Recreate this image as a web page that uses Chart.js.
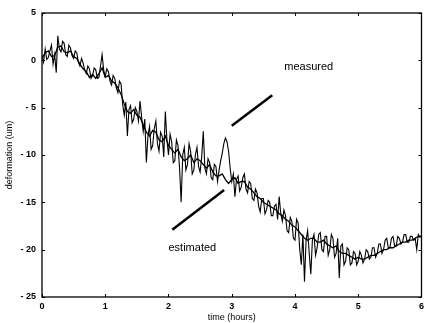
<!DOCTYPE html>
<html>
<head>
<meta charset="utf-8">
<script src="https://cdn.jsdelivr.net/npm/chart.js@4"></script>
<style>
  html, body { margin: 0; padding: 0; background: #fff; }
  #wrap { width: 428px; height: 323px; }
</style>
</head>
<body>
<div id="wrap"><canvas id="grafico"></canvas></div>
<script>
// ===== DADOS =====
const passoMedido = 0.025;   // h
const medido = [
  0.5, -0.2, 1.2, 0.1, 0.3, 1.0, 1.6, -0.4, 0.6, -1.3,
  2.6, 1.2, 0.9, 2.0, 1.8, 0.6, 0.4, 1.6, 1.3, 0.5,
  0.2, 1.0, 0.8, -0.2, -0.6, 0.2, -0.3, -1.0, -1.4, -0.6,
  -0.9, -1.9, -1.6, -0.8, -1.0, -1.9, -1.8, -0.6, 0.6, -1.0,
  -1.7, -0.9, -1.2, -2.2, -2.6, -1.6, -1.9, -2.9, -3.4, -2.2,
  -2.5, -4.6, -5.8, -4.4, -8.0, -5.2, -4.8, -6.6, -6.2, -5.0,
  -5.4, -6.4, -4.3, -6.0, -7.5, -6.2, -10.8, -8.0, -7.0, -9.4,
  -9.0, -7.2, -6.4, -8.8, -9.6, -7.6, -8.0, -10.2, -5.4, -8.4,
  -10.0, -7.8, -8.6, -10.8, -10.6, -8.4, -9.0, -11.4, -15.0, -10.0,
  -9.2, -11.6, -11.0, -8.8, -9.6, -12.0, -11.6, -10.0, -9.2, -11.2,
  -11.8, -10.2, -7.5, -11.4, -12.0, -10.4, -10.8, -12.4, -12.6, -11.0,
  -11.2, -12.8, -11.6, -10.6, -9.8, -8.8, -8.2, -8.6, -9.6, -11.4,
  -12.8, -12.0, -14.4, -12.6, -12.2, -13.8, -13.4, -12.4, -12.0, -13.6,
  -14.0, -12.8, -13.0, -14.6, -14.8, -13.6, -14.0, -15.4, -16.0, -14.6,
  -14.6, -16.2, -15.8, -14.8, -15.0, -16.4, -16.4, -15.4, -15.2, -16.8,
  -14.4, -16.2, -17.0, -15.8, -16.4, -18.0, -18.2, -16.6, -17.0, -18.8,
  -19.0, -16.8, -17.2, -20.0, -21.6, -18.4, -23.4, -19.0, -18.0, -20.4,
  -22.6, -19.0, -18.4, -20.6, -19.8, -18.4, -18.2, -20.0, -20.2, -18.6,
  -18.6, -20.6, -20.0, -18.4, -18.8, -20.8, -20.4, -18.8, -23.0, -19.6,
  -19.4, -21.6, -21.2, -19.8, -20.0, -21.6, -21.4, -20.2, -20.4, -21.6,
  -21.2, -20.2, -20.6, -21.4, -21.0, -20.0, -20.2, -21.0, -20.8, -19.8,
  -19.8, -20.8, -20.4, -19.4, -19.4, -20.4, -20.0, -19.0, -18.8, -19.8,
  -19.8, -18.8, -18.6, -19.6, -19.6, -18.6, -18.8, -19.4, -19.2, -18.4,
  -18.4, -19.2, -19.2, -18.6, -18.6, -19.0, -18.8, -20.0, -18.4, -18.7,
  -18.5
];

const passoEstimado = 0.05;  // h
const estimado = [
  0.2, 0.8, 1.0, 0.4, 0.5, 1.4, 1.5, 0.9, 0.8, 1.0,
  0.4, 0.2, -0.4, -0.9, -1.2, -1.8, -1.5, -1.9, -1.4, -0.8,
  -1.8, -1.6, -2.2, -2.4, -2.9, -3.6, -4.6, -5.4, -5.6, -5.2,
  -5.8, -6.0, -6.8, -7.6, -8.0, -7.4, -7.6, -8.4, -8.6, -8.0,
  -9.0, -9.4, -9.8, -9.4, -10.2, -10.6, -10.4, -10.0, -10.8, -10.4,
  -10.6, -11.0, -11.4, -11.0, -11.8, -12.2, -12.2, -12.0, -12.6, -13.0,
  -12.6, -12.4, -13.0, -12.8, -12.8, -13.4, -13.6, -14.0, -14.4, -14.6,
  -15.0, -15.2, -15.4, -15.6, -15.8, -16.2, -16.4, -16.8, -17.0, -17.4,
  -17.6, -18.0, -18.4, -18.8, -19.0, -18.8, -18.8, -19.2, -19.2, -19.0,
  -19.4, -19.6, -19.8, -19.6, -20.2, -20.4, -20.4, -20.6, -20.8, -21.0,
  -20.8, -21.0, -21.0, -20.8, -20.6, -20.6, -20.4, -20.2, -20.0, -20.0,
  -19.8, -19.8, -19.6, -19.4, -19.2, -19.2, -19.0, -19.0, -18.8, -18.6,
  -18.6
];

// setas de anotação (unidades dos dados)
const setaMedidoX = [3.0, 3.64];
const setaMedidoY = [-6.9, -3.7];
const setaEstimadoX = [2.06, 2.88];
const setaEstimadoY = [-17.9, -13.7];

const rotulos = [
  { texto: 'measured', x: 3.83, y: -0.7 },
  { texto: 'estimated', x: 2.0, y: -19.8 }
];

const ticksX = [0, 1, 2, 3, 4, 5, 6];
const ticksY = [5, 0, -5, -10, -15, -20, -25];

// ===== MONTAGEM =====
function pontos(valores, passo) {
  return valores.map((v, i) => ({ x: +(i * passo).toFixed(3), y: v }));
}
function seta(xs, ys) {
  return xs.map((x, i) => ({ x: x, y: ys[i] }));
}

const fonte = '"Liberation Sans", Arial, sans-serif';

// moldura com ticks para dentro (estilo MATLAB) e textos das anotações
const pluginMoldura = {
  id: 'moldura',
  afterDatasetsDraw(chart) {
    const { ctx, chartArea: a, scales } = chart;
    ctx.save();
    ctx.strokeStyle = '#000';
    ctx.lineWidth = 1.3;
    ctx.strokeRect(a.left, a.top, a.right - a.left, a.bottom - a.top);
    ctx.lineWidth = 1;
    ticksX.forEach(v => {
      const px = Math.round(scales.x.getPixelForValue(v)) + 0.5;
      ctx.beginPath();
      ctx.moveTo(px, a.bottom); ctx.lineTo(px, a.bottom - 3);
      ctx.moveTo(px, a.top); ctx.lineTo(px, a.top + 3);
      ctx.stroke();
    });
    ticksY.forEach(v => {
      const py = Math.round(scales.y.getPixelForValue(v)) + 0.5;
      ctx.beginPath();
      ctx.moveTo(a.left, py); ctx.lineTo(a.left + 3, py);
      ctx.moveTo(a.right, py); ctx.lineTo(a.right - 3, py);
      ctx.stroke();
    });
    ctx.fillStyle = '#000';
    ctx.font = '11px ' + fonte;
    ctx.textBaseline = 'middle';
    rotulos.forEach(r => {
      ctx.fillText(r.texto, scales.x.getPixelForValue(r.x), scales.y.getPixelForValue(r.y));
    });
    ctx.restore();
  }
};

const linha = (dados, largura) => ({
  data: dados,
  borderColor: '#000',
  borderWidth: largura,
  pointRadius: 0,
  fill: false,
  tension: 0
});

new Chart(document.getElementById('grafico'), {
  type: 'line',
  data: {
    datasets: [
      linha(pontos(estimado, passoEstimado), 1.3),
      linha(pontos(medido, passoMedido), 1.1),
      linha(seta(setaMedidoX, setaMedidoY), 2.5),
      linha(seta(setaEstimadoX, setaEstimadoY), 2.5)
    ]
  },
  options: {
    responsive: true,
    maintainAspectRatio: false,
    animation: false,
    layout: { padding: { top: 13, right: 2, left: 0, bottom: 0 } },
    plugins: { legend: { display: false }, tooltip: { enabled: false } },
    scales: {
      x: {
        type: 'linear',
        min: 0, max: 6,
        afterFit: s => { s.height = 26; },
        afterBuildTicks: s => { s.ticks = ticksX.map(v => ({ value: v })); },
        grid: { display: false, drawTicks: false },
        border: { display: false },
        ticks: { padding: 4, color: '#000', font: { family: fonte, size: 9, weight: 'bold' } },
        title: {
          display: true, text: 'time (hours)', color: '#000',
          padding: 0, font: { family: fonte, size: 9 }
        }
      },
      y: {
        type: 'linear',
        min: -25, max: 5,
        afterFit: s => { s.width = 42; },
        afterBuildTicks: s => { s.ticks = ticksY.map(v => ({ value: v })); },
        grid: { display: false, drawTicks: false },
        border: { display: false },
        ticks: {
          padding: 6, color: '#000', font: { family: fonte, size: 9, weight: 'bold' },
          callback: v => (v < 0 ? '- ' + Math.abs(v) : String(v))
        },
        title: {
          display: true, text: 'deformation (um)', color: '#000',
          padding: { top: 4, bottom: 0 }, font: { family: fonte, size: 9 }
        }
      }
    }
  },
  plugins: [pluginMoldura]
});
</script>
</body>
</html>
